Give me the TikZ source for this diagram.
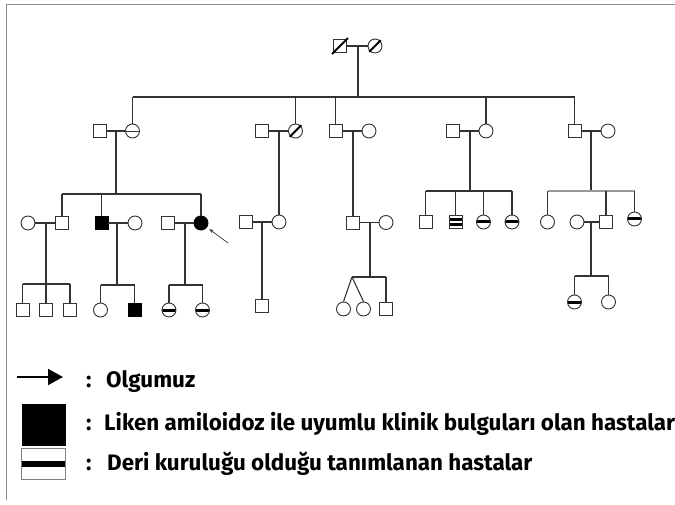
\documentclass[tikz,border=0pt]{standalone}
\usepackage{fontspec}
\setmainfont{Fira Sans}
\usetikzlibrary{arrows.meta}
\begin{document}
\begin{tikzpicture}[x=1pt,y=-1pt,
  ped/.style={line width=1.1pt, draw=black!80},
  pedlight/.style={line width=1.1pt, draw=black!40},
  msq/.style={rectangle, draw=black!80, line width=0.9pt, minimum size=13pt, inner sep=0pt, fill=white},
  fcirc/.style={circle, draw=black!80, line width=0.9pt, minimum size=14pt, inner sep=0pt, fill=white},
  aff/.style={fill=black, draw=black},
  drybar/.style={path picture={\fill[black] ([yshift=-1.5pt]path picture bounding box.west) rectangle ([yshift=1.5pt]path picture bounding box.east);}},
  thinbar/.style={path picture={\draw[black!80, line width=0.8pt] (path picture bounding box.west) -- (path picture bounding box.east);}},
  doublebar/.style={path picture={
     \fill[black] ([yshift=-4pt]path picture bounding box.west) rectangle ([yshift=-1pt]path picture bounding box.east);
     \fill[black] ([yshift=1pt]path picture bounding box.west) rectangle ([yshift=4pt]path picture bounding box.east);}},
  slash/.style={line width=1.8pt, draw=black},
  legtext/.style={anchor=base west, inner sep=0pt, font=\fontsize{22.4}{26}\selectfont\bfseries}
]
\useasboundingbox (0,0) rectangle (675,505);
% frame
\draw[black!45, line width=1pt] (6,500) -- (6,5) -- (675,5);

% ---------- Generation I
\node[msq] (I1) at (340,46) {};
\node[fcirc] (I2) at (375,46) {};
\draw[ped] (I1) -- (I2);
\draw[slash] ([shift={(-1,1)}]I1.south west) -- ([shift={(1,-1)}]I1.north east);
\draw[slash] ([shift={(-0.5,0.5)}]I2.south west) -- ([shift={(0.5,-0.5)}]I2.north east);
\coordinate (m1) at (358,46);
\coordinate (s1) at (358,97);
\draw[ped] (m1) -- (s1);

% ---------- Generation II
\node[msq] (II1) at (99.5,131) {};
\node[fcirc, thinbar] (II2) at (132.5,131) {};
\node[msq] (II3) at (262,131) {};
\node[fcirc] (II4) at (295.5,131) {};
\node[msq] (II5) at (335.5,131) {};
\node[fcirc] (II6) at (369,131) {};
\node[msq] (II7) at (452.5,131) {};
\node[fcirc] (II8) at (486,131) {};
\node[msq] (II9) at (574.5,131) {};
\node[fcirc] (II10) at (608,131) {};
\draw[slash] ([shift={(-0.5,0.5)}]II4.south west) -- ([shift={(0.5,-0.5)}]II4.north east);
\draw[ped] (II2|-s1) -- (II9|-s1);
\foreach \n in {II2,II4,II5,II8,II9} \draw[ped] (\n) -- (\n|-s1);
\foreach \a/\b in {II1/II2,II3/II4,II5/II6,II7/II8,II9/II10} \draw[ped] (\a) -- (\b);
\coordinate (m2) at (116,131); \coordinate (s2) at (116,194);
\coordinate (m3) at (279,131);
\coordinate (m4) at (353,131);
\coordinate (m5) at (470,131); \coordinate (s5) at (470,191);
\coordinate (m6) at (591,131); \coordinate (s6) at (591,191);
\draw[ped] (m2) -- (s2);
\draw[ped] (m5) -- (s5);
\draw[ped] (m6) -- (s6);

% ---------- Generation III
\node[fcirc] (III1) at (28,223) {};
\node[msq] (III2) at (62,223) {};
\node[msq, aff] (III3) at (101.5,223) {};
\node[fcirc] (III4) at (135,223) {};
\node[msq] (III5) at (168,223) {};
\node[fcirc, aff] (III6) at (201,223) {};
\draw[ped] (III2|-s2) -- (III6|-s2);
\foreach \n in {III2,III3,III6} \draw[ped] (\n) -- (\n|-s2);
\foreach \a/\b in {III1/III2,III3/III4,III5/III6} \draw[ped] (\a) -- (\b);

\node[msq] (III7) at (246,222) {};
\node[fcirc] (III8) at (279,222) {};
\draw[ped] (III7) -- (III8);
\draw[ped] (m3) -- (III8);

\node[msq] (III9) at (353,222.5) {};
\node[fcirc] (III10) at (386,222.5) {};
\draw[ped] (III9) -- (III10);
\draw[ped] (m4) -- (III9);

\node[msq] (III11) at (425.5,222) {};
\node[msq, doublebar] (III12) at (455.5,222) {};
\node[fcirc, drybar] (III13) at (483.5,222) {};
\node[fcirc, drybar] (III14) at (512,222) {};
\draw[ped] (III11|-s5) -- (III14|-s5);
\foreach \n in {III11,III12,III13,III14} \draw[ped] (\n) -- (\n|-s5);

\node[fcirc] (III15) at (547.5,222) {};
\node[fcirc] (III16) at (577,222) {};
\node[msq] (III17) at (606,222) {};
\node[fcirc, drybar] (III18) at (634.5,219) {};
\draw[pedlight] (III15|-s6) -- (III18|-s6);
\foreach \n in {III15,III17,III18} \draw[ped] (\n) -- (\n|-s6);
\draw[ped] (III16) -- (III17);

% proband arrow
\coordinate (pa) at (228,243);
\draw[black!80, line width=0.7pt, -{Stealth[length=4pt,width=3.5pt]}, shorten >=3pt] (pa) -- (III6);

% ---------- Generation IV
\coordinate (m7) at (46,223); \coordinate (s7) at (46,284);
\coordinate (m8) at (117,223); \coordinate (s8) at (117,285);
\coordinate (m9) at (185,223); \coordinate (s9) at (185,285);
\draw[ped] (m7) -- (s7);
\draw[ped] (m8) -- (s8);
\draw[ped] (m9) -- (s9);
\node[msq] (IV1) at (22.5,310) {};
\node[msq] (IV2) at (46,310) {};
\node[msq] (IV3) at (70,310) {};
\draw[ped] (IV1|-s7) -- (IV3|-s7);
\foreach \n in {IV1,IV2,IV3} \draw[ped] (\n) -- (\n|-s7);
\node[fcirc] (IV4) at (100.5,310) {};
\node[msq, aff] (IV5) at (134.5,310) {};
\draw[ped] (IV4|-s8) -- (IV5|-s8);
\foreach \n in {IV4,IV5} \draw[ped] (\n) -- (\n|-s8);
\node[fcirc, drybar] (IV6) at (169,310) {};
\node[fcirc, drybar] (IV7) at (202.5,310) {};
\draw[ped] (IV6|-s9) -- (IV7|-s9);
\foreach \n in {IV6,IV7} \draw[ped] (\n) -- (\n|-s9);

\coordinate (m10) at (262,222);
\node[msq] (IV8) at (262,306) {};
\draw[ped] (m10) -- (IV8);

\coordinate (m11) at (370,222.5); \coordinate (s11) at (370,277);
\coordinate (tw) at (352,277);
\draw[ped] (m11) -- (s11);
\node[fcirc] (IV9) at (343.5,309) {};
\node[fcirc] (IV10) at (363.5,309) {};
\node[msq] (IV11) at (386,309) {};
\draw[ped] (tw) -- (IV11|-tw);
\draw[ped] (IV11) -- (IV11|-tw);
\draw[ped] (tw) -- (IV9.north);
\draw[ped] (tw) -- (IV10.north);

\coordinate (m12) at (591,222); \coordinate (s12) at (591,276);
\draw[ped] (m12) -- (s12);
\node[fcirc, drybar] (IV12) at (574.5,302) {};
\node[fcirc] (IV13) at (608.5,302) {};
\draw[ped] (IV12|-s12) -- (IV13|-s12);
\foreach \n in {IV12,IV13} \draw[ped] (\n) -- (\n|-s12);

% ---------- Legend
\coordinate (la1) at (17,377);
\coordinate (la2) at (63,377);
\draw[black, line width=1.8pt, -{Triangle[length=15pt,width=16pt]}] (la1) -- (la2);
\node[fill=black, minimum width=44pt, minimum height=42pt, inner sep=0pt] (legaff) at (44,425) {};
\node[draw=black!50, line width=0.6pt, minimum width=44pt, minimum height=31pt, inner sep=0pt,
  path picture={\fill[black] ([yshift=-3pt]path picture bounding box.west) rectangle ([yshift=3pt]path picture bounding box.east);}] (legdry) at (43,463.5) {};
\node[legtext] (c1) at (86,387) {:};
\node[legtext] (t1) at (106,387) {Olgumuz};
\node[legtext] (c2) at (86,430) {:};
\node[legtext] (t2) at (104,430) {Liken amiloidoz ile uyumlu klinik bulguları olan hastalar};
\node[legtext] (c3) at (86,470) {:};
\node[legtext] (t3) at (107,470) {Deri kuruluğu olduğu tanımlanan hastalar};
\end{tikzpicture}
\end{document}
